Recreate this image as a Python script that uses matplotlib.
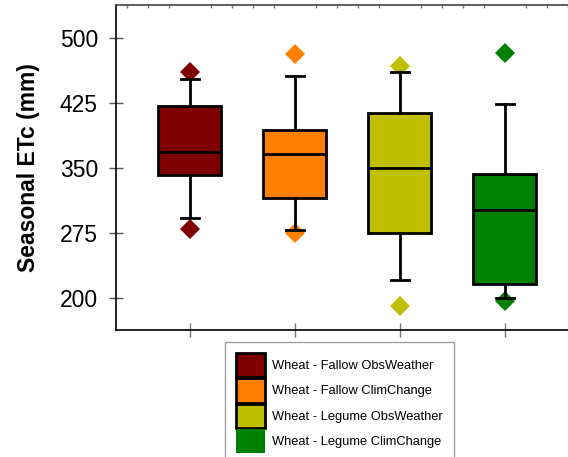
import matplotlib
matplotlib.use("Agg")
import matplotlib.pyplot as plt
from matplotlib.patches import Patch
from matplotlib.ticker import MultipleLocator

plt.rcParams["font.family"] = ["Liberation Sans", "DejaVu Sans"]

# -----------------------------
# DATA
# -----------------------------
labels = ["Wheat - Fallow ObsWeather", "Wheat - Fallow ClimChange",
          "Wheat - Legume ObsWeather", "Wheat - Legume ClimChange"]
colors = ["#800000", "#FF8000", "#C0C000", "#008000"]

q1 = [342, 315, 274, 216]
median = [368, 366, 350, 301]
q3 = [421, 393, 413, 343]
whis_lo = [292, 278, 220, 200]
whis_hi = [452, 456, 460, 424]
fliers = [[461, 279], [481, 274], [467, 190], [482, 196]]

yticks = [200, 275, 350, 425, 500]

# -----------------------------
# PLOT
# -----------------------------
fig = plt.figure(figsize=(5.68, 4.57), dpi=100)
ax = fig.add_axes([0.2048, 0.2779, 0.7952, 0.7105])

stats = []
for i in range(len(labels)):
    stats.append({"q1": q1[i], "med": median[i], "q3": q3[i],
                  "whislo": whis_lo[i], "whishi": whis_hi[i],
                  "fliers": fliers[i]})

bp = ax.bxp(stats, positions=[1, 2, 3, 4], widths=0.6, patch_artist=True,
            boxprops=dict(linewidth=2, edgecolor="black"),
            medianprops=dict(linewidth=2, color="black"),
            whiskerprops=dict(linewidth=2, color="black"),
            capprops=dict(linewidth=2, color="black"),
            capwidths=0.17)

for box, c in zip(bp["boxes"], colors):
    box.set_facecolor(c)
for fl, c in zip(bp["fliers"], colors):
    fl.set(marker="D", markersize=10, markerfacecolor=c,
           markeredgecolor=c, markeredgewidth=0)
    fl.set_zorder(1)

ax.set_xlim(0.3, 4.6)
ax.set_ylim(162.5, 537.5)
ax.set_yticks(yticks)
ax.set_xticks([1, 2, 3, 4])
ax.set_xticklabels([])
ax.xaxis.set_minor_locator(MultipleLocator(0.2))

ax.spines["right"].set_visible(False)
for s in ["left", "bottom", "top"]:
    ax.spines[s].set_linewidth(1.2)
ax.spines["top"].set_color("#444444")

ax.tick_params(axis="y", direction="inout", length=10, width=1,
               color="#555555", labelsize=16.5, pad=8.3)
ax.tick_params(axis="x", which="major", direction="inout", length=10,
               width=1, color="#777777")
ax.tick_params(axis="x", which="minor", top=True, bottom=False,
               direction="in", length=2, width=1, color="#777777")

ax.set_ylabel("Seasonal ETc (mm)", fontsize=16.5, fontweight="bold",
              labelpad=14)

# legend: first three swatches outlined, the last one not (as in the original)
handles = []
for i, c in enumerate(colors):
    if i < 3:
        handles.append(Patch(facecolor=c, edgecolor="black", linewidth=2))
    else:
        handles.append(Patch(facecolor=c, edgecolor="none"))

leg = fig.legend(handles, labels, loc="upper left",
                 bbox_to_anchor=(225 / 568, 1 - 342 / 457),
                 fontsize=9.3, frameon=True, fancybox=False,
                 edgecolor="#888888", borderaxespad=0,
                 handlelength=2.25, handleheight=2.5, labelspacing=0.1,
                 handletextpad=0.55, borderpad=0.85)
leg.get_frame().set_linewidth(1)

plt.savefig("out.png", dpi=100)
